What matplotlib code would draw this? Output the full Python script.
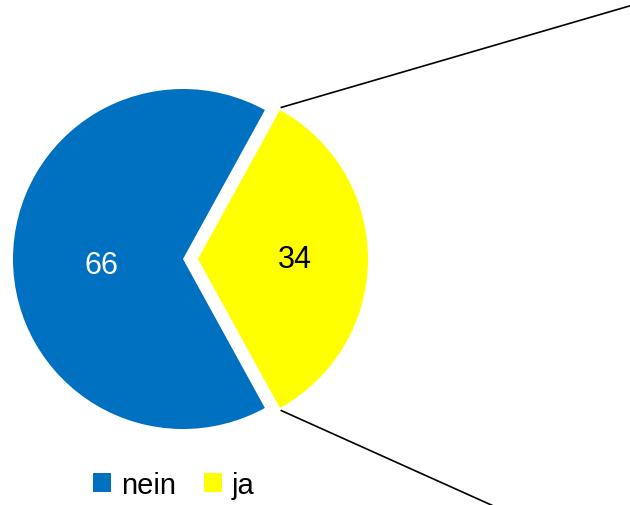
import matplotlib.pyplot as plt
import numpy as np

labels = ['nein', 'ja']
values = [66, 34]
colors = ['#0070c0', '#ffff00']
text_colors = ['white', 'black']

plt.rcParams['font.family'] = ['Liberation Sans', 'DejaVu Sans']

fig = plt.figure(figsize=(6.3, 5.06), dpi=100)
ax = fig.add_axes([0, 0, 1, 1])

cx, cy, r = 183, 246, 170
start = 360 * values[1] / 100 / 2
wedges, _ = ax.pie(values, colors=colors, startangle=start, radius=r,
                   center=(cx, cy), explode=[0, 15], frame=True,
                   wedgeprops=dict(linewidth=0))
ax.set_xlim(0, 630)
ax.set_ylim(0, 506)
ax.set_aspect('equal')
ax.axis('off')

# value labels
ax.text(101, 506 - 266, str(values[0]), color=text_colors[0], fontsize=22,
        ha='center', va='center')
ax.text(295, 506 - 260, str(values[1]), color=text_colors[1], fontsize=22,
        ha='center', va='center')

# connector lines to the (off-image) bar
yw = wedges[1]
x0, y0 = yw.center
bar_ends = [(650, 505), (518, -12)]
for ang, end in zip([yw.theta2, yw.theta1], bar_ends):
    a = np.deg2rad(ang)
    sx = x0 + (r + 3) * np.cos(a)
    sy = y0 + (r + 3) * np.sin(a)
    ax.plot([sx, end[0]], [sy, end[1]], color='black', lw=1.2)

ax.legend(wedges, labels, loc='lower left', bbox_to_anchor=(93 / 630, 6 / 506),
          ncol=2, frameon=False, fontsize=21, handlelength=0.62,
          handleheight=0.62, handletextpad=0.34, columnspacing=0.96,
          borderpad=0, borderaxespad=0)

fig.savefig('out.png', dpi=100)
